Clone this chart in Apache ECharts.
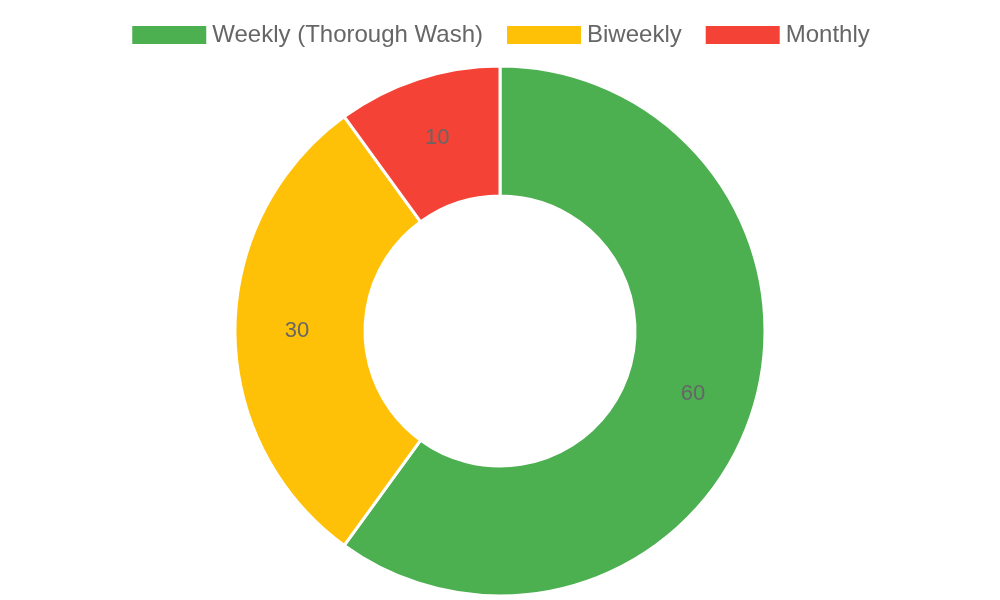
<!DOCTYPE html>
<html>
<head>
<meta charset="utf-8">
<script src="https://cdn.jsdelivr.net/npm/echarts@6/dist/echarts.min.js"></script>
<style>html,body{margin:0;padding:0;background:#fff}#chart{width:1000px;height:600px}</style>
</head>
<body>
<div id="chart"></div>
<script>
var categories = ['Weekly (Thorough Wash)', 'Biweekly', 'Monthly'];
var values = [60, 30, 10];
var colors = ['#4caf50', '#ffc107', '#f44336'];

var myChart = echarts.init(document.getElementById('chart'));
var option = {
    animation: false,
    textStyle: { fontFamily: 'Liberation Sans, Arial, sans-serif' },
    legend: {
        top: 18,
        icon: 'rect',
        itemWidth: 76,
        itemHeight: 20,
        itemGap: 22,
        textStyle: { fontSize: 24, color: '#666' },
        data: categories
    },
    series: [{
        type: 'pie',
        center: [500, 331],
        radius: [135, 265],
        startAngle: 90,
        clockwise: true,
        itemStyle: { borderColor: '#fff', borderWidth: 3 },
        label: { show: true, position: 'inside', formatter: '{c}', fontSize: 22, color: '#666' },
        labelLine: { show: false },
        emphasis: { disabled: true },
        data: categories.map(function (c, i) {
            return { name: c, value: values[i], itemStyle: { color: colors[i] } };
        })
    }]
};
myChart.setOption(option);
</script>
</body>
</html>
